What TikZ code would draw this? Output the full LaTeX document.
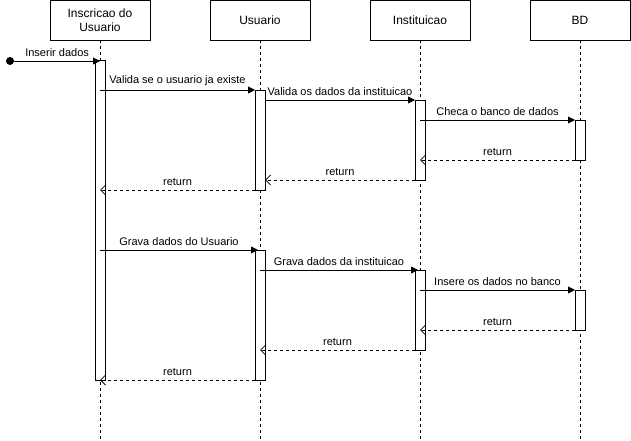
\documentclass[tikz,border=0pt]{standalone}
\usepackage{fontspec}
\setmainfont{Liberation Sans}
\usetikzlibrary{arrows.meta}
\begin{document}
\begin{tikzpicture}[x=1pt,y=-1pt,
  head/.style={draw,line width=0.8pt,minimum width=100pt,minimum height=40pt,inner sep=0pt,align=center,font=\fontsize{12}{14}\selectfont,fill=white},
  life/.style={dashed,line width=0.8pt,dash pattern=on 3pt off 3pt},
  act/.style={draw,line width=0.8pt,fill=white,minimum width=10pt,inner sep=0pt},
  msg/.style={line width=0.8pt,-{Triangle[length=7pt,width=7pt]}},
  ret/.style={line width=0.8pt,dash pattern=on 3pt off 3pt,-{Straight Barb[length=5pt,width=10pt]}},
  lbl/.style={font=\fontsize{11}{13}\selectfont,inner sep=1pt,above=2.5pt}
]
\useasboundingbox (0,0) rectangle (631,441);
% headers
\node[head] (h1) at (100,20) {Inscricao do\\Usuario};
\node[head] (h2) at (260,20) {Usuario};
\node[head] (h3) at (420,20) {Instituicao};
\node[head] (h4) at (580,20) {BD};
\coordinate (e1) at (100,441);
\coordinate (e2) at (260,441);
\coordinate (e3) at (420,441);
\coordinate (e4) at (580,441);
\draw[life] (h1.south) -- (e1);
\draw[life] (h2.south) -- (e2);
\draw[life] (h3.south) -- (e3);
\draw[life] (h4.south) -- (e4);
% activations
\node[act,minimum height=320pt] (a1) at (100,220) {};
\node[act,minimum height=100pt] (a2) at (260,140) {};
\node[act,minimum height=130pt] (a2b) at (260,315) {};
\node[act,minimum height=80pt] (a3) at (420,140) {};
\node[act,minimum height=80pt] (a3b) at (420,310) {};
\node[act,minimum height=40pt] (a4) at (580,140) {};
\node[act,minimum height=40pt] (a4b) at (580,310) {};
% start
\node[circle,fill=black,minimum size=8pt,inner sep=0pt] (s) at (10,61) {};
\coordinate (t0) at (100,61);
\draw[msg] (s) -- (t0) node[lbl,pos=0.5] {Inserir dados};
% first sequence
\coordinate (m1a) at (100,90); \coordinate (m1b) at (255,90);
\draw[msg] (m1a) -- (m1b) node[lbl,midway] {Valida se o usuario ja existe};
\coordinate (m2a) at (265,100); \coordinate (m2b) at (415,100);
\draw[msg] (m2a) -- (m2b) node[lbl,midway] {Valida os dados da instituicao};
\coordinate (m3a) at (420,120); \coordinate (m3b) at (575,120);
\draw[msg] (m3a) -- (m3b) node[lbl,midway] {Checa o banco de dados};
\coordinate (r1a) at (575,160); \coordinate (r1b) at (420,160);
\draw[ret] (r1a) -- (r1b) node[lbl,midway] {return};
\coordinate (r2a) at (415,180); \coordinate (r2b) at (265,180);
\draw[ret] (r2a) -- (r2b) node[lbl,midway] {return};
\coordinate (r3a) at (255,190); \coordinate (r3b) at (100,190);
\draw[ret] (r3a) -- (r3b) node[lbl,midway] {return};
% second sequence
\coordinate (n1a) at (100,250); \coordinate (n1b) at (258,250);
\draw[msg] (n1a) -- (n1b) node[lbl,midway] {Grava dados do Usuario};
\coordinate (n2a) at (260,270); \coordinate (n2b) at (418,270);
\draw[msg] (n2a) -- (n2b) node[lbl,midway] {Grava dados da instituicao};
\coordinate (n3a) at (420,290); \coordinate (n3b) at (575,290);
\draw[msg] (n3a) -- (n3b) node[lbl,midway] {Insere os dados no banco};
\coordinate (q1a) at (575,330); \coordinate (q1b) at (420,330);
\draw[ret] (q1a) -- (q1b) node[lbl,midway] {return};
\coordinate (q2a) at (415,350); \coordinate (q2b) at (260,350);
\draw[ret] (q2a) -- (q2b) node[lbl,midway] {return};
\coordinate (q3a) at (255,380); \coordinate (q3b) at (100,380);
\draw[ret] (q3a) -- (q3b) node[lbl,midway] {return};
\end{tikzpicture}
\end{document}
